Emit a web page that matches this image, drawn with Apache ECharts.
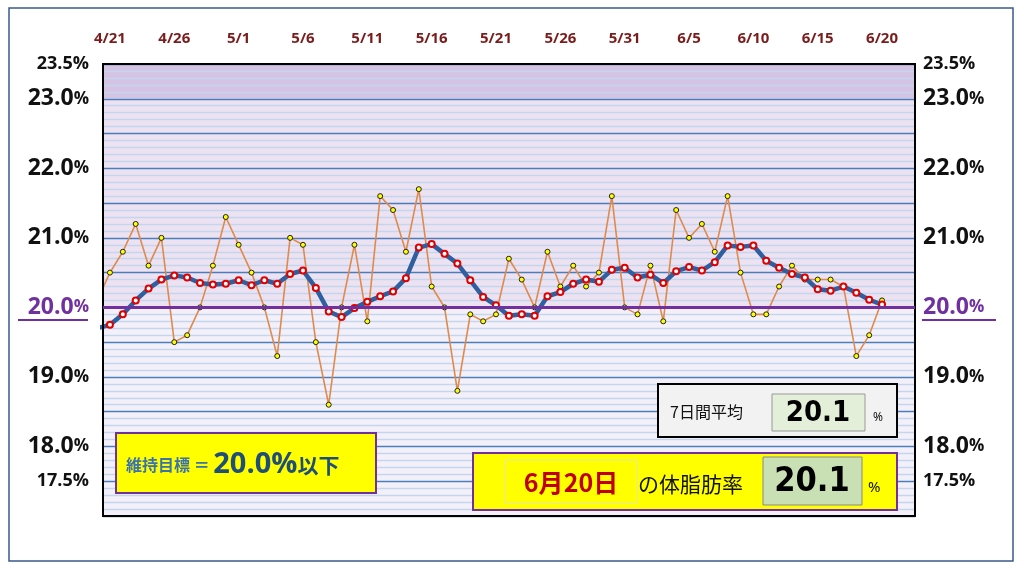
<!DOCTYPE html>
<html><head><meta charset="utf-8">
<script src="https://cdn.jsdelivr.net/npm/echarts@6/dist/echarts.min.js"></script>
<style>html,body{margin:0;padding:0;background:#fff}#c{width:1024px;height:570px}</style>
</head><body><div id="c"></div>
<script>
// day index -1 = 4/20 (partial, clipped at left edge), 0 = 4/21 ... 60 = 6/20
const tickDays = [0,5,10,15,20,25,30,35,40,45,50,55,60];
const tickLabels = ['4/21','4/26','5/1','5/6','5/11','5/16','5/21','5/26','5/31','6/5','6/10','6/15','6/20'];
const rawValues = [20.1,
  20.5,20.8,21.2,20.6,21.0,19.5,19.6,20.0,20.6,21.3,20.9,20.5,20.0,19.3,21.0,20.9,19.5,18.6,20.0,20.9,19.8,21.6,21.4,20.8,21.7,20.3,20.0,18.8,19.9,19.8,19.9,20.7,
  20.4,20.0,20.8,20.3,20.6,20.3,20.5,21.6,20.0,19.9,20.6,19.8,21.4,21.0,21.2,20.8,21.6,20.5,19.9,19.9,20.3,20.6,20.4,20.4,20.4,20.3,19.3,19.6,20.1];
const avgValues = [19.7,
  19.75,19.9,20.1,20.27,20.4,20.46,20.43,20.35,20.33,20.34,20.39,20.32,20.39,20.34,20.48,20.53,20.28,19.94,19.86,19.99,20.08,20.16,20.23,20.42,20.86,20.91,20.77,20.63,20.39,20.15,20.03,19.88,
  19.9,19.88,20.16,20.22,20.34,20.4,20.37,20.54,20.57,20.43,20.47,20.35,20.52,20.58,20.53,20.65,20.89,20.87,20.89,20.67,20.57,20.48,20.43,20.26,20.24,20.3,20.21,20.11,20.04];
const bigLabels = ['18.0','19.0','20.0','21.0','22.0','23.0'];
const smallLabels = ['17.5','23.5'];
const goalValue = 20.0;
const avg7 = '20.1', todayLabel = '6月20日', todayValue = '20.1';

const pts = a => a.map((v,i)=>[i-1,v]);
const yLabel = v => {
  const s = (Math.round(v*10)/10).toFixed(1);
  if (s === '20.0') return '{g|20.0}{gp|%}';
  if (bigLabels.includes(s)) return '{b|'+s+'}{p|%}';
  if (smallLabels.includes(s)) return '{s|'+s+'%}';
  return '';
};
const F = 'Open Sans';
const rich = {
  b:{fontSize:23,fontWeight:'bold',color:'#111',fontFamily:F},
  p:{fontSize:17,fontWeight:'bold',color:'#111',fontFamily:F},
  g:{fontSize:23,fontWeight:'bold',color:'#7030a0',fontFamily:F},
  gp:{fontSize:17,fontWeight:'bold',color:'#7030a0',fontFamily:F},
  s:{fontSize:18,fontWeight:'bold',color:'#111',fontFamily:F}
};
// band colours per 0.1 step from 17.0 to 23.5
const bandColors = [];
for (let i=0;i<65;i++) bandColors.push(i<30?'#f4f0f9':(i<60?'#ede2f2':'#d4c3e3'));
const narrow = 'DejaVu Sans Condensed, Roboto Condensed, Roboto, sans-serif';
const yBase = {type:'value',min:17,max:23.5,interval:0.1,axisTick:{show:false},axisLine:{show:false}};
const chart = echarts.init(document.getElementById('c'));
chart.setOption({
  animation:false,
  grid:{left:103,top:64,width:812,height:452},
  xAxis:{type:'value',position:'top',min:-0.54,max:62.56,splitLine:{show:false},axisLine:{show:false},axisTick:{show:false},
    axisLabel:{customValues:tickDays,margin:18,formatter:v=>tickLabels[tickDays.indexOf(Math.round(v))]||'',
      color:'#7b1c1c',fontWeight:'bold',fontSize:15,fontFamily:F}},
  yAxis:[
    Object.assign({},yBase,{position:'left',
      splitArea:{show:true,areaStyle:{color:bandColors}},
      splitLine:{show:true,lineStyle:{color:['#4a7ebb','#c3d6ee','#c3d6ee','#c3d6ee','#c3d6ee'],width:1.3}},
      axisLabel:{formatter:yLabel,rich:rich,margin:14,showMinLabel:true,showMaxLabel:true}}),
    Object.assign({},yBase,{position:'right',splitLine:{show:false},
      axisLabel:{formatter:yLabel,rich:rich,margin:8,align:'left',showMinLabel:true,showMaxLabel:true}})
  ],
  series:[
    {type:'line',data:pts(rawValues),z:3,lineStyle:{color:'#df8a4c',width:1.6},symbol:'circle',symbolSize:5,
      itemStyle:{color:'#ffff00',borderColor:'#222',borderWidth:1},
      markLine:{silent:true,symbol:'none',label:{show:false},lineStyle:{color:'#7030a0',width:3,type:'solid'},data:[{yAxis:goalValue}]}},
    {type:'line',data:pts(avgValues),z:4,lineStyle:{color:'#2f5f9e',width:4.5},symbol:'circle',symbolSize:6,
      itemStyle:{color:'#fff',borderColor:'#e00000',borderWidth:2}}
  ],
  graphic:[
    {type:'rect',shape:{x:9,y:8,width:1004,height:553},style:{fill:'none',stroke:'#3b5a8a',lineWidth:1.5},z:-1},
    {type:'rect',shape:{x:103,y:64,width:812,height:452},style:{fill:'none',stroke:'#000',lineWidth:2},z:5},
    {type:'line',shape:{x1:18,y1:320,x2:88,y2:320},style:{stroke:'#7030a0',lineWidth:2}},
    {type:'line',shape:{x1:922,y1:320,x2:996,y2:320},style:{stroke:'#7030a0',lineWidth:2}},
    // goal box
    {type:'rect',shape:{x:116,y:433,width:260,height:60},style:{fill:'#ffff00',stroke:'#7030a0',lineWidth:2},z:10},
    {type:'text',x:126,y:465,z:11,style:{text:'{a|維持目標 ＝ }{b|'+goalValue.toFixed(1)+'%}{c|以下}',verticalAlign:'middle',
      rich:{a:{fontSize:16,fontWeight:'bold',fill:'#3a72b0',fontFamily:'Noto Sans CJK JP'},
            b:{fontSize:29,fontWeight:'bold',fill:'#1f4e79',fontFamily:F},
            c:{fontSize:21,fontWeight:'bold',fill:'#1f4e79',fontFamily:'Noto Sans CJK JP'}}}},
    // 7-day average box
    {type:'rect',shape:{x:658,y:384,width:239,height:53},style:{fill:'#f2f2f2',stroke:'#000',lineWidth:2},z:10},
    {type:'text',x:670,y:412,z:11,style:{text:'7日間平均',fontSize:16,fill:'#111',verticalAlign:'middle',fontFamily:'Noto Sans CJK JP'}},
    {type:'rect',shape:{x:772,y:394,width:93,height:37},style:{fill:'#e3efd9',stroke:'#999',lineWidth:1},z:10},
    {type:'text',x:818,y:413,z:11,style:{text:avg7,fontSize:29,fontWeight:'bold',fill:'#000',align:'center',verticalAlign:'middle',fontFamily:narrow}},
    {type:'text',x:873,y:418,z:11,style:{text:'%',fontSize:12,fill:'#111',verticalAlign:'middle',fontFamily:'Noto Sans'}},
    // today box
    {type:'rect',shape:{x:473,y:453,width:424,height:57},style:{fill:'#ffff00',stroke:'#7030a0',lineWidth:2},z:10},
    {type:'rect',shape:{x:505,y:460,width:132,height:43},style:{fill:'#ffff00',stroke:'#e6e6b0',lineWidth:1},z:10},
    {type:'text',x:571,y:482,z:11,style:{text:todayLabel,fontSize:25,fontWeight:'bold',fill:'#c00000',align:'center',verticalAlign:'middle',fontFamily:'Noto Sans CJK JP'}},
    {type:'text',x:638,y:484,z:11,style:{text:'の体脂肪率',fontSize:21,fill:'#111',verticalAlign:'middle',fontFamily:'Noto Sans CJK JP'}},
    {type:'rect',shape:{x:763,y:457,width:99,height:48},style:{fill:'#c9e0b4',stroke:'#888',lineWidth:1},z:10},
    {type:'text',x:812,y:482,z:11,style:{text:todayValue,fontSize:34,fontWeight:'bold',fill:'#000',align:'center',verticalAlign:'middle',fontFamily:narrow}},
    {type:'text',x:868,y:488,z:11,style:{text:'%',fontSize:15,fill:'#111',verticalAlign:'middle',fontFamily:'Noto Sans'}}
  ]
});
</script></body></html>
